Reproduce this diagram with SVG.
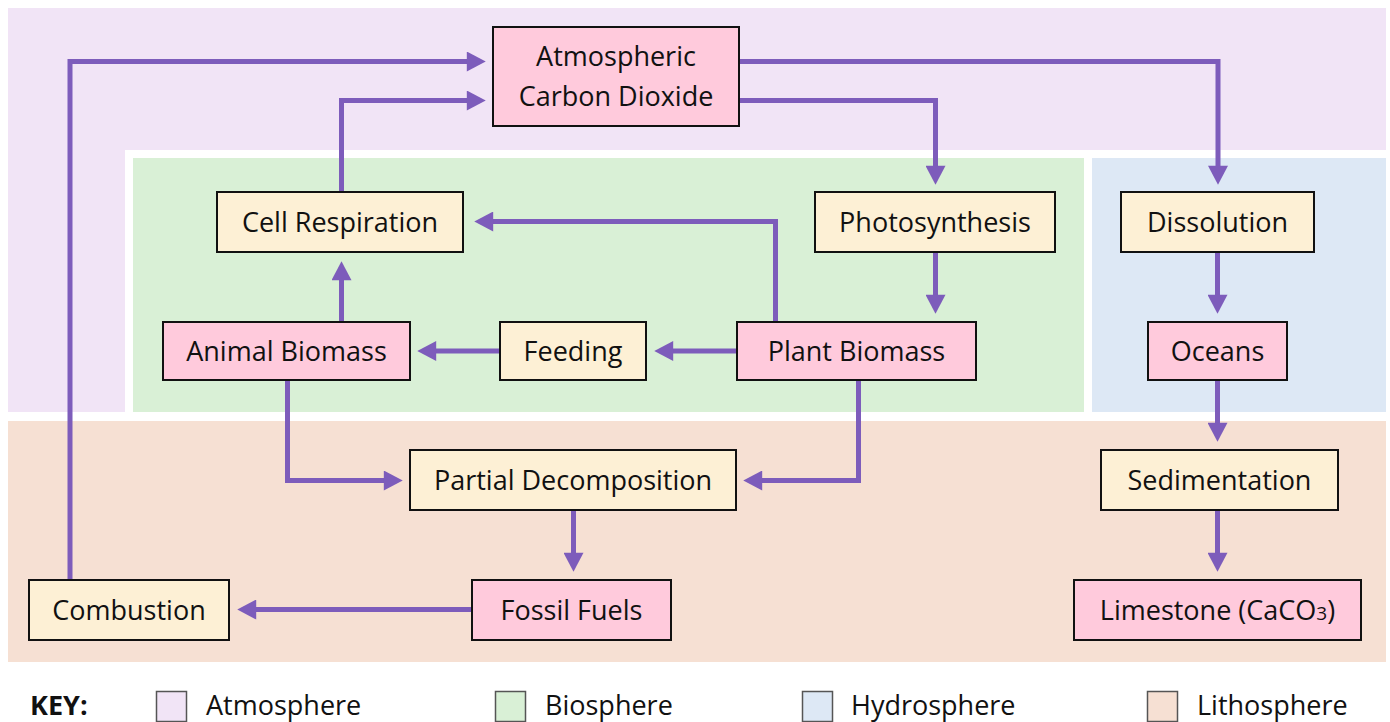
<svg xmlns="http://www.w3.org/2000/svg" width="1390" height="722" viewBox="0 0 1390 722">
<defs>
<style>
.lbl{font-family:"Open Sans","Noto Sans","DejaVu Sans",sans-serif;font-size:27px;fill:#111;text-anchor:middle}
.key{font-family:"Open Sans","Noto Sans","DejaVu Sans",sans-serif;font-size:27px;fill:#111}
.pink{fill:#FFCADC;stroke:#111;stroke-width:2}
.cream{fill:#FDF0D5;stroke:#111;stroke-width:2}
.conn path{fill:none;stroke:#7D5CBB;stroke-width:5;stroke-linejoin:miter;marker-end:url(#ah)}
.sw{stroke:#555;stroke-width:1.5}
</style>
<marker id="ah" markerUnits="userSpaceOnUse" markerWidth="20" markerHeight="20" viewBox="0 0 18 19" refX="4" refY="9.5" orient="auto">
<path d="M0,0 L18,9.5 L0,19 z" fill="#7D5CBB"/>
</marker>
</defs>
<g id="regions">
<rect x="8" y="8" width="1378" height="404" fill="#F1E4F6"/>
<rect x="125" y="150" width="1261" height="262" fill="#FFFFFF"/>
<rect x="133" y="158" width="951" height="254" fill="#D9F0D6"/>
<rect x="1092" y="158" width="294" height="254" fill="#DDE8F5"/>
<rect x="8" y="421" width="1378" height="241" fill="#F6E0D3"/>
</g>
<g id="connectors" class="conn">
<path d="M70,580 V61.5 H471"/>
<path d="M341.5,192 V100.5 H471"/>
<path d="M739,61.5 H1218 V170"/>
<path d="M739,100.5 H935.5 V170"/>
<path d="M935.5,252 V299"/>
<path d="M775.5,322 V221.5 H489"/>
<path d="M737,351 H669"/>
<path d="M500,351 H432"/>
<path d="M341.5,322 V276"/>
<path d="M287.5,380 V480.5 H388"/>
<path d="M858.5,380 V480.5 H758"/>
<path d="M573.5,510 V557"/>
<path d="M472,609.5 H252"/>
<path d="M1217.5,252 V299"/>
<path d="M1217.5,380 V427"/>
<path d="M1217.5,510 V557"/>
</g>
<g id="n-co2"><rect class="pink" x="493" y="27" width="246" height="99"/><text class="lbl" x="616" y="66">Atmospheric</text><text class="lbl" x="616" y="106">Carbon Dioxide</text></g>
<g id="n-cellresp"><rect class="cream" x="217" y="192" width="246" height="60"/><text class="lbl" x="340" y="231.5">Cell Respiration</text></g>
<g id="n-photo"><rect class="cream" x="815" y="192" width="240" height="60"/><text class="lbl" x="935" y="231.5">Photosynthesis</text></g>
<g id="n-dissolution"><rect class="cream" x="1121" y="192" width="193" height="60"/><text class="lbl" x="1217.5" y="231.5">Dissolution</text></g>
<g id="n-animal"><rect class="pink" x="163" y="322" width="247" height="58"/><text class="lbl" x="286.5" y="360.5">Animal Biomass</text></g>
<g id="n-feeding"><rect class="cream" x="500" y="322" width="146" height="58"/><text class="lbl" x="573" y="360.5">Feeding</text></g>
<g id="n-plant"><rect class="pink" x="737" y="322" width="239" height="58"/><text class="lbl" x="856.5" y="360.5">Plant Biomass</text></g>
<g id="n-oceans"><rect class="pink" x="1148" y="322" width="139" height="58"/><text class="lbl" x="1217.5" y="360.5">Oceans</text></g>
<g id="n-partial"><rect class="cream" x="410" y="450" width="326" height="60"/><text class="lbl" x="573" y="489.5">Partial Decomposition</text></g>
<g id="n-sedimentation"><rect class="cream" x="1101" y="450" width="237" height="60"/><text class="lbl" x="1219.5" y="489.5">Sedimentation</text></g>
<g id="n-combustion"><rect class="cream" x="29" y="580" width="200" height="60"/><text class="lbl" x="129" y="619.5">Combustion</text></g>
<g id="n-fossil"><rect class="pink" x="472" y="580" width="199" height="60"/><text class="lbl" x="571.5" y="619.5">Fossil Fuels</text></g>
<g id="n-limestone"><rect class="pink" x="1074" y="580" width="287" height="60"/><text class="lbl" x="1217.5" y="619.5">Limestone (CaCO<tspan font-size="19">3</tspan>)</text></g>
<g id="key">
<text class="key" x="30" y="715" font-weight="bold" font-size="26">KEY:</text>
<rect class="sw" x="156.5" y="691.5" width="30" height="30" fill="#F1E4F6"/>
<text class="key" x="206" y="715">Atmosphere</text>
<rect class="sw" x="495.5" y="691.5" width="30" height="30" fill="#D9F0D6"/>
<text class="key" x="545" y="715">Biosphere</text>
<rect class="sw" x="802.5" y="691.5" width="30" height="30" fill="#DDE8F5"/>
<text class="key" x="851" y="715">Hydrosphere</text>
<rect class="sw" x="1147.5" y="691.5" width="30" height="30" fill="#F6E0D3"/>
<text class="key" x="1197" y="715">Lithosphere</text>
</g>
</svg>
